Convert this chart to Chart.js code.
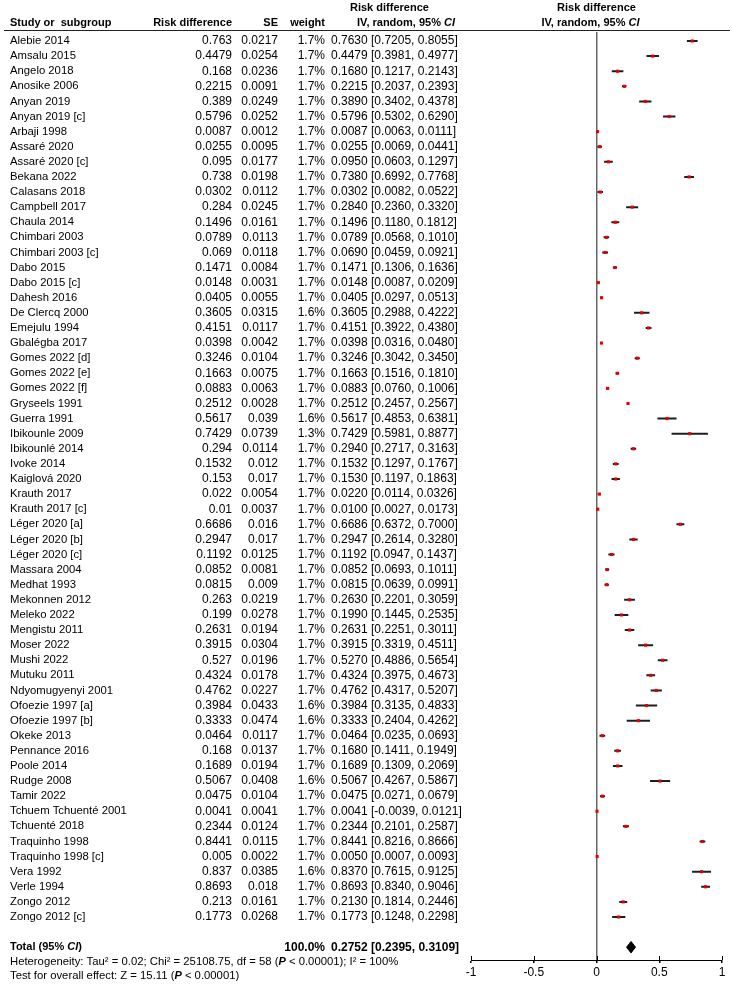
<!DOCTYPE html>
<html>
<head>
<meta charset="utf-8">
<title>Forest plot</title>
<script src="https://cdn.jsdelivr.net/npm/chart.js@4.4.0/dist/chart.umd.min.js"></script>
<style>
  body { margin: 0; background: #fff; }
  #wrap { width: 732px; height: 991px; }
</style>
</head>
<body>
<div id="wrap"><canvas id="forest" width="732" height="991"></canvas></div>
<script>
// study rows, top to bottom
const studies = ['Alebie 2014', 'Amsalu 2015', 'Angelo 2018', 'Anosike 2006', 'Anyan 2019', 'Anyan 2019 [c]',
  'Arbaji 1998', 'Assaré 2020', 'Assaré 2020 [c]', 'Bekana 2022', 'Calasans 2018', 'Campbell 2017',
  'Chaula 2014', 'Chimbari 2003', 'Chimbari 2003 [c]', 'Dabo 2015', 'Dabo 2015 [c]', 'Dahesh 2016',
  'De Clercq 2000', 'Emejulu 1994', 'Gbalégba 2017', 'Gomes 2022 [d]', 'Gomes 2022 [e]', 'Gomes 2022 [f]',
  'Gryseels 1991', 'Guerra 1991', 'Ibikounle 2009', 'Ibikounlé 2014', 'Ivoke 2014', 'Kaiglová 2020',
  'Krauth 2017', 'Krauth 2017 [c]', 'Léger 2020 [a]', 'Léger 2020 [b]', 'Léger 2020 [c]', 'Massara 2004',
  'Medhat 1993', 'Mekonnen 2012', 'Meleko 2022', 'Mengistu 2011', 'Moser 2022', 'Mushi 2022',
  'Mutuku 2011', 'Ndyomugyenyi 2001', 'Ofoezie 1997 [a]', 'Ofoezie 1997 [b]', 'Okeke 2013', 'Pennance 2016',
  'Poole 2014', 'Rudge 2008', 'Tamir 2022', 'Tchuem Tchuenté 2001', 'Tchuenté 2018', 'Traquinho 1998',
  'Traquinho 1998 [c]', 'Vera 1992', 'Verle 1994', 'Zongo 2012', 'Zongo 2012 [c]'];

const riskDiff = [0.763, 0.4479, 0.168, 0.2215, 0.389, 0.5796, 0.0087, 0.0255, 0.095, 0.738, 0.0302, 0.284,
  0.1496, 0.0789, 0.069, 0.1471, 0.0148, 0.0405, 0.3605, 0.4151, 0.0398, 0.3246, 0.1663, 0.0883,
  0.2512, 0.5617, 0.7429, 0.294, 0.1532, 0.153, 0.022, 0.01, 0.6686, 0.2947, 0.1192, 0.0852,
  0.0815, 0.263, 0.199, 0.2631, 0.3915, 0.527, 0.4324, 0.4762, 0.3984, 0.3333, 0.0464, 0.168,
  0.1689, 0.5067, 0.0475, 0.0041, 0.2344, 0.8441, 0.005, 0.837, 0.8693, 0.213, 0.1773];

const se = [0.0217, 0.0254, 0.0236, 0.0091, 0.0249, 0.0252, 0.0012, 0.0095, 0.0177, 0.0198, 0.0112, 0.0245,
  0.0161, 0.0113, 0.0118, 0.0084, 0.0031, 0.0055, 0.0315, 0.0117, 0.0042, 0.0104, 0.0075, 0.0063,
  0.0028, 0.039, 0.0739, 0.0114, 0.012, 0.017, 0.0054, 0.0037, 0.016, 0.017, 0.0125, 0.0081,
  0.009, 0.0219, 0.0278, 0.0194, 0.0304, 0.0196, 0.0178, 0.0227, 0.0433, 0.0474, 0.0117, 0.0137,
  0.0194, 0.0408, 0.0104, 0.0041, 0.0124, 0.0115, 0.0022, 0.0385, 0.018, 0.0161, 0.0268];

const weights = [1.7, 1.7, 1.7, 1.7, 1.7, 1.7, 1.7, 1.7, 1.7, 1.7, 1.7, 1.7,
  1.7, 1.7, 1.7, 1.7, 1.7, 1.7, 1.6, 1.7, 1.7, 1.7, 1.7, 1.7,
  1.7, 1.6, 1.3, 1.7, 1.7, 1.7, 1.7, 1.7, 1.7, 1.7, 1.7, 1.7,
  1.7, 1.7, 1.7, 1.7, 1.7, 1.7, 1.7, 1.7, 1.6, 1.6, 1.7, 1.7,
  1.7, 1.6, 1.7, 1.7, 1.7, 1.7, 1.7, 1.6, 1.7, 1.7, 1.7];

const ciLow = [0.7205, 0.3981, 0.1217, 0.2037, 0.3402, 0.5302, 0.0063, 0.0069, 0.0603, 0.6992, 0.0082, 0.2360,
  0.1180, 0.0568, 0.0459, 0.1306, 0.0087, 0.0297, 0.2988, 0.3922, 0.0316, 0.3042, 0.1516, 0.0760,
  0.2457, 0.4853, 0.5981, 0.2717, 0.1297, 0.1197, 0.0114, 0.0027, 0.6372, 0.2614, 0.0947, 0.0693,
  0.0639, 0.2201, 0.1445, 0.2251, 0.3319, 0.4886, 0.3975, 0.4317, 0.3135, 0.2404, 0.0235, 0.1411,
  0.1309, 0.4267, 0.0271, -0.0039, 0.2101, 0.8216, 0.0007, 0.7615, 0.8340, 0.1814, 0.1248];

const ciHigh = [0.8055, 0.4977, 0.2143, 0.2393, 0.4378, 0.6290, 0.0111, 0.0441, 0.1297, 0.7768, 0.0522, 0.3320,
  0.1812, 0.1010, 0.0921, 0.1636, 0.0209, 0.0513, 0.4222, 0.4380, 0.0480, 0.3450, 0.1810, 0.1006,
  0.2567, 0.6381, 0.8877, 0.3163, 0.1767, 0.1863, 0.0326, 0.0173, 0.7000, 0.3280, 0.1437, 0.1011,
  0.0991, 0.3059, 0.2535, 0.3011, 0.4511, 0.5654, 0.4673, 0.5207, 0.4833, 0.4262, 0.0693, 0.1949,
  0.2069, 0.5867, 0.0679, 0.0121, 0.2587, 0.8666, 0.0093, 0.9125, 0.9046, 0.2446, 0.2298];

// pooled estimate
const totalEst = 0.2752;
const totalLow = 0.2395;
const totalHigh = 0.3109;
const totalWeight = 100.0;
const totalRow = 60;

const xTicks = [-1, -0.5, 0, 0.5, 1];
const xTickLabels = ['-1', '-0.5', '0', '0.5', '1'];

const heterogeneity = [['Heterogeneity: Tau² = 0.02; Chi² = 25108.75, df = 58 (', 't'], ['P', 'bi'], [' < 0.00001); I² = 100%', 't']];
const overallTest = [['Test for overall effect: Z = 15.11 (', 't'], ['P', 'bi'], [' < 0.00001)', 't']];

const FAM = '"Liberation Sans", Arial, sans-serif';
// t = names / prose, n = numbers, b / bi = headers
const fonts = {
  t: '11.3px ' + FAM,
  n: '12px ' + FAM,
  b: 'bold 11px ' + FAM,
  bn: 'bold 12px ' + FAM,
  bi: 'italic bold 11px ' + FAM
};

// CI whiskers as one line with gaps between studies
const whiskers = [];
studies.forEach((s, i) => {
  whiskers.push({ x: ciLow[i], y: i }, { x: ciHigh[i], y: i }, { x: null, y: null });
});
const points = studies.map((s, i) => ({ x: riskDiff[i], y: i }));
const diamond = [
  { x: totalLow, y: totalRow }, { x: totalEst, y: totalRow - 0.38 },
  { x: totalHigh, y: totalRow }, { x: totalEst, y: totalRow + 0.38 }, { x: totalLow, y: totalRow }
];

// draw a line of mixed-font text pieces
function drawRuns(ctx, runs, x, y, align) {
  let w = 0;
  runs.forEach(r => { ctx.font = fonts[r[1]]; w += ctx.measureText(r[0]).width; });
  let cx = align === 'right' ? x - w : align === 'center' ? x - w / 2 : x;
  ctx.textAlign = 'left';
  runs.forEach(r => {
    ctx.font = fonts[r[1]];
    ctx.fillText(r[0], cx, y);
    cx += ctx.measureText(r[0]).width;
  });
}

const tablePlugin = {
  id: 'table',
  afterDraw(chart) {
    const ctx = chart.ctx;
    const ys = chart.scales.y;
    const xs = chart.scales.x;
    ctx.save();
    ctx.fillStyle = '#000';
    ctx.textBaseline = 'middle';

    // header
    drawRuns(ctx, [['Risk difference', 'b']], 350, 8, 'left');
    drawRuns(ctx, [['IV, random, 95% ', 'b'], ['CI', 'bi']], 357, 23, 'left');
    drawRuns(ctx, [['Study or  subgroup', 'b']], 10, 23, 'left');
    drawRuns(ctx, [['Risk difference', 'b']], 232, 23, 'right');
    drawRuns(ctx, [['SE', 'b']], 278, 23, 'right');
    drawRuns(ctx, [['weight', 'b']], 325, 23, 'right');
    const x0 = xs.getPixelForValue(0);
    drawRuns(ctx, [['Risk difference', 'b']], x0, 8, 'center');
    drawRuns(ctx, [['IV, random, 95% ', 'b'], ['CI', 'bi']], x0 - 6, 23, 'center');
    ctx.strokeStyle = '#222';
    ctx.lineWidth = 1;
    ctx.beginPath();
    ctx.moveTo(4, 30.5);
    ctx.lineTo(730, 30.5);
    ctx.stroke();

    // study rows
    studies.forEach((s, i) => {
      const y = ys.getPixelForValue(i);
      drawRuns(ctx, [[s, 't']], 10, y, 'left');
      drawRuns(ctx, [[String(riskDiff[i]), 'n']], 232, y, 'right');
      drawRuns(ctx, [[String(se[i]), 'n']], 278, y, 'right');
      drawRuns(ctx, [[weights[i].toFixed(1) + '%', 'n']], 325, y, 'right');
      const ci = riskDiff[i].toFixed(4) + ' [' + ciLow[i].toFixed(4) + ', ' + ciHigh[i].toFixed(4) + ']';
      drawRuns(ctx, [[ci, 'n']], 331, y, 'left');
    });

    // total + footer
    const yt = ys.getPixelForValue(totalRow);
    drawRuns(ctx, [['Total (95% ', 'b'], ['CI', 'bi'], [')', 'b']], 10, yt, 'left');
    drawRuns(ctx, [[totalWeight.toFixed(1) + '%', 'bn']], 325, yt, 'right');
    drawRuns(ctx, [[totalEst.toFixed(4) + ' [' + totalLow.toFixed(4) + ', ' + totalHigh.toFixed(4) + ']', 'bn']], 331, yt, 'left');
    drawRuns(ctx, heterogeneity, 10, yt + 15, 'left');
    drawRuns(ctx, overallTest, 10, yt + 29, 'left');

    // tick marks also poke above the axis line
    ctx.strokeStyle = '#000';
    ctx.beginPath();
    xTicks.forEach(v => {
      const px = Math.round(xs.getPixelForValue(v)) + 0.5;
      ctx.moveTo(px, xs.top - 4);
      ctx.lineTo(px, xs.top);
    });
    ctx.stroke();
    ctx.restore();
  }
};

new Chart(document.getElementById('forest'), {
  type: 'scatter',
  data: {
    datasets: [
      {
        label: 'estimate',
        data: points,
        order: 0,
        pointStyle: 'rect',
        pointRadius: 2.2,
        backgroundColor: '#e30000',
        borderColor: '#e30000',
        borderWidth: 0
      },
      {
        label: 'CI',
        data: whiskers,
        order: 1,
        showLine: true,
        spanGaps: false,
        pointRadius: 0,
        borderColor: '#1e1e1e',
        borderWidth: 2
      },
      {
        label: 'total',
        data: diamond,
        order: 0,
        showLine: true,
        fill: 'shape',
        pointRadius: 0,
        borderColor: '#000',
        backgroundColor: '#000',
        borderWidth: 1
      }
    ]
  },
  options: {
    responsive: false,
    animation: false,
    layout: { padding: { left: 471, right: 10, top: 32, bottom: 0 } },
    plugins: { legend: { display: false }, tooltip: { enabled: false } },
    scales: {
      x: {
        type: 'linear',
        min: -1,
        max: 1,
        afterFit: s => { s.height = 31; },
        afterBuildTicks: s => { s.ticks = xTicks.map(v => ({ value: v })); },
        ticks: {
          color: '#000',
          font: { family: FAM, size: 12 },
          padding: 2,
          maxRotation: 0,
          callback: v => xTickLabels[xTicks.indexOf(v)]
        },
        grid: {
          drawOnChartArea: true,
          color: c => (c.tick && c.tick.value === 0 ? '#666' : 'rgba(0,0,0,0)'),
          lineWidth: 1.5,
          tickColor: '#000',
          tickLength: 3
        },
        border: { display: true, color: '#000', width: 1 }
      },
      y: {
        type: 'linear',
        display: false,
        reverse: true,
        min: -0.596,
        max: 60.848
      }
    }
  },
  plugins: [tablePlugin]
});
</script>
</body>
</html>
